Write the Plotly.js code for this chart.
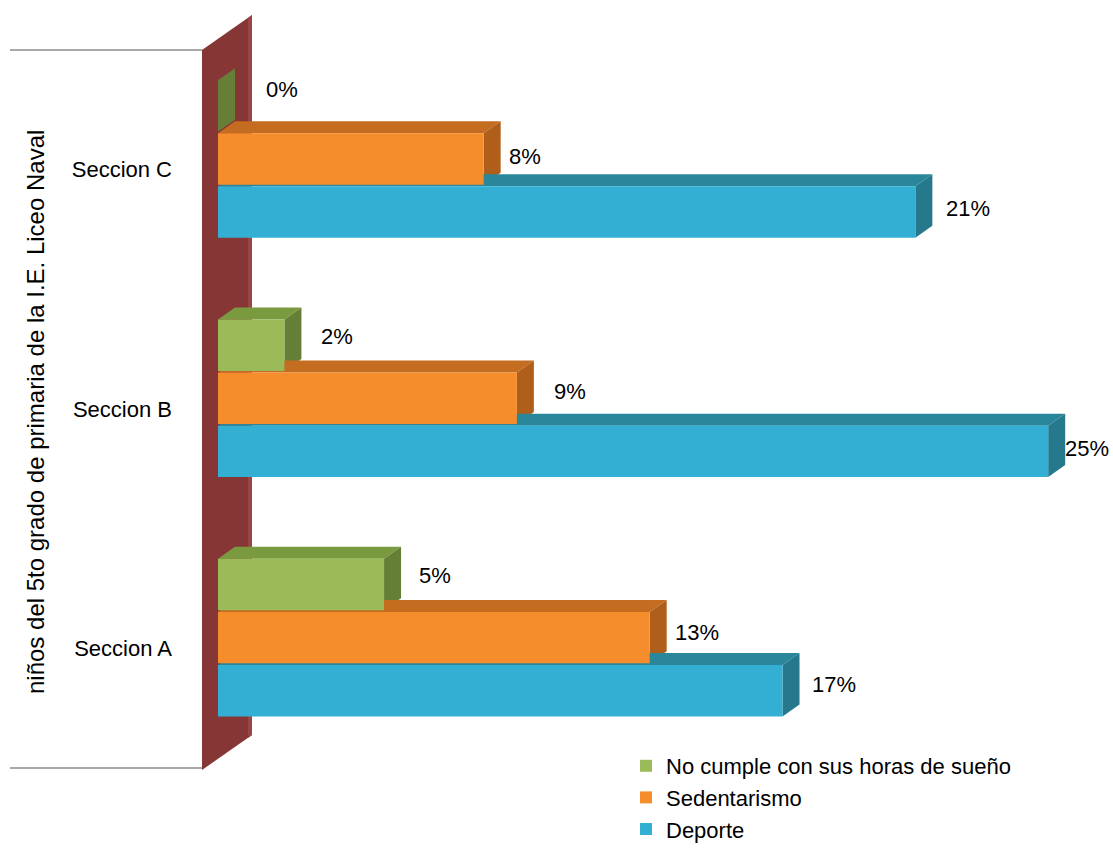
<!DOCTYPE html>
<html>
<head>
<meta charset="utf-8">
<script src="https://cdn.plot.ly/plotly-3.0.1.min.js"></script>
<style>html,body{margin:0;padding:0;background:#fff;}#chart{width:1113px;height:850px;}</style>
</head>
<body>
<div id="chart"></div>
<script>
// ---- data ----
const categories = ['Seccion A', 'Seccion B', 'Seccion C'];
const seriesNames = ['No cumple con sus horas de sueño', 'Sedentarismo', 'Deporte'];
const sueno = [5, 2, 0];
const sedentarismo = [13, 9, 8];
const deporte = [17, 25, 21];
const yTitle = 'niños del 5to grado de primaria de la I.E. Liceo Naval';

// ---- style ----
const FONT = 'Liberation Sans, Arial, sans-serif';
const W = 1113, H = 850;
const catPos = categories.map((c, i) => i);
const barW = 0.215;
const series = [
  {name: seriesNames[0], values: sueno,        offset: 0.159,   front: '#9BBB59', top: '#7A9A40', side: '#667F36',
   lx: [33, 35, 46], ly: [9, 9, 16]},
  {name: seriesNames[1], values: sedentarismo, offset: -0.0627, front: '#F58D2D', top: '#C46C1F', side: '#B05F1A',
   lx: [23, 35, 23], ly: [5, 7, 2]},
  {name: seriesNames[2], values: deporte,      offset: -0.2845, front: '#33AFD4', top: '#2A879B', side: '#26788C',
   lx: [27, 15, 29], ly: [6, 3, 4]}
];
const DX = 0.512, DY = 0.050; // 3D depth in data units

// plot area in pixels (extends to page bottom so the legend sits inside it)
const L = 218, R = 1098, T = 50, B = 850, AXB = 768;
const pxPerCat = (AXB - T) / 3;
const yMin = -0.5 - (B - AXB) / pxPerCat;
const px = v => (v - L) / (R - L);
const py = v => (B - v) / (B - T);

const shapes = [];
shapes.push({type: 'path', xref: 'paper', yref: 'paper', layer: 'below',
  path: `M ${px(202)},${py(50)} L ${px(252)},${py(15)} L ${px(252)},${py(735)} L ${px(202)},${py(770)} Z`,
  fillcolor: '#873636', line: {width: 0}});
shapes.push({type: 'path', xref: 'paper', yref: 'paper', layer: 'below',
  path: `M ${px(248)},${py(18)} L ${px(252)},${py(15)} L ${px(252)},${py(735)} L ${px(248)},${py(738)} Z`,
  fillcolor: '#9A4545', line: {width: 0}});
shapes.push({type: 'line', xref: 'paper', yref: 'paper', x0: px(10), x1: px(202), y0: py(50), y1: py(50), line: {color: '#8C8C8C', width: 1.5}});
shapes.push({type: 'line', xref: 'paper', yref: 'paper', x0: px(10), x1: px(202), y0: py(768), y1: py(768), line: {color: '#8C8C8C', width: 1.5}});

const traces = [];
const annotations = [];
series.forEach(s => {
  traces.push({
    type: 'bar', orientation: 'h', name: s.name,
    x: s.values, y: catPos, width: barW, offset: s.offset,
    marker: {color: s.front, line: {width: 0}},
    hoverinfo: 'x+name'
  });
  s.values.forEach((v, i) => {
    const b = catPos[i] + s.offset, t = b + barW;
    shapes.push({type: 'path', xref: 'x', yref: 'y', layer: 'below',
      path: `M 0,${t} L ${v},${t} L ${v + DX},${t + DY} L ${DX},${t + DY} Z`,
      fillcolor: s.top, line: {width: 0}});
    shapes.push({type: 'path', xref: 'x', yref: 'y', layer: 'below',
      path: `M ${v},${b} L ${v},${t} L ${v + DX},${t + DY} L ${v + DX},${b + DY} Z`,
      fillcolor: s.side, line: {width: 0}});
    annotations.push({x: v, y: (b + t) / 2, xref: 'x', yref: 'y', text: v + '%',
      showarrow: false, xanchor: 'left', yanchor: 'middle', xshift: s.lx[i], yshift: s.ly[i],
      font: {family: FONT, size: 22, color: '#000'}});
  });
});

annotations.push({xref: 'paper', yref: 'paper', x: px(35), y: py(412), text: yTitle, textangle: -90,
  showarrow: false, xanchor: 'center', yanchor: 'middle', font: {family: FONT, size: 24, color: '#000'}});

const layout = {
  width: W, height: H,
  margin: {l: L, r: W - R, t: T, b: H - B},
  paper_bgcolor: '#fff', plot_bgcolor: 'rgba(0,0,0,0)',
  font: {family: FONT, color: '#000'},
  barmode: 'overlay',
  showlegend: true,
  legend: {x: px(626), y: 0, xanchor: 'left', yanchor: 'bottom', traceorder: 'normal',
    font: {family: FONT, size: 22, color: '#000'}, bgcolor: 'rgba(0,0,0,0)', tracegroupgap: 0},
  xaxis: {range: [0, 26.5], visible: false, fixedrange: true},
  yaxis: {
    range: [yMin, 2.5], tickvals: catPos, ticktext: categories,
    showgrid: false, zeroline: false, showline: false, ticks: '',
    ticklabelstandoff: 45, automargin: false,
    tickfont: {family: FONT, size: 22, color: '#000'}
  },
  shapes: shapes,
  annotations: annotations
};

Plotly.newPlot('chart', traces, layout, {displayModeBar: false, staticPlot: true});
</script>
</body>
</html>
